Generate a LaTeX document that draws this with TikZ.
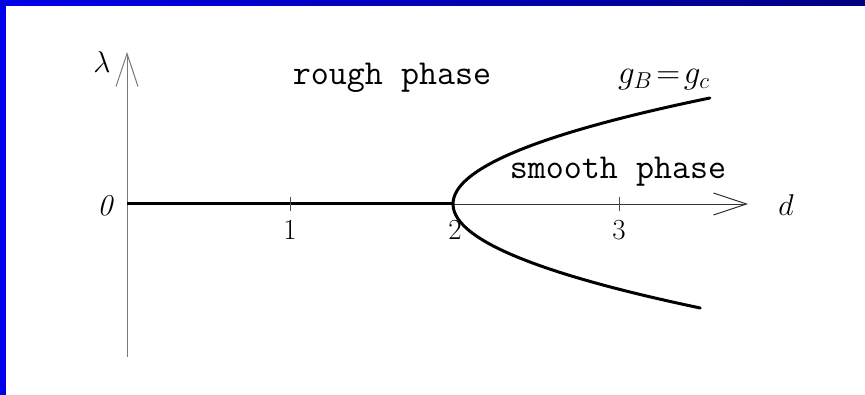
\documentclass[tikz,border=0pt]{standalone}
\usetikzlibrary{arrows.meta}
\definecolor{frameblue}{RGB}{0,0,235}
\definecolor{framenavy}{RGB}{0,0,130}
\definecolor{axisgrey}{RGB}{120,120,120}
\begin{document}
\begin{tikzpicture}[x=1pt,y=-1pt,
  openarrow/.style={-{Straight Barb[length=33pt,width=22pt,line width=1pt]}},
  phaselabel/.style={font=\fontsize{35}{38}\selectfont\ttfamily, inner sep=0pt},
  ticklabel/.style={font=\fontsize{20.74}{24}\selectfont, scale=1.4, inner sep=0pt},
  axlabel/.style={font=\fontsize{20.74}{24}\selectfont, scale=1.45, inner sep=0pt}]
\useasboundingbox (0,0) rectangle (865,395);
\fill[white] (0,0) rectangle (865,395);
% frame
\shade[left color=frameblue, right color=framenavy] (0,0) rectangle (865,6);
\fill[frameblue] (0,0) rectangle (6,395);
% coordinates
\coordinate (origin) at (127,204);
\coordinate (ytop) at (127,52);
\coordinate (ybot) at (127,357);
\coordinate (xend) at (748,204);
\coordinate (crit) at (453,204);
% axes
\draw[axisgrey, line width=0.8pt] (ybot) -- (origin);
\draw[axisgrey, line width=0.8pt, openarrow] (origin) -- (ytop);
\draw[black!80, line width=0.8pt, openarrow] (crit) -- (xend);
\draw[black, line width=3pt] (origin) -- (crit);
% ticks
\foreach \x/\n in {290/one,453/two,619/three}
  \draw[black!70, line width=0.7pt] (\x,197) -- (\x,211) coordinate (tick\n);
\node[ticklabel] (lab1) at (290,230) {1};
\node[ticklabel] (lab2) at (455,230) {2};
\node[ticklabel] (lab3) at (619,230) {3};
% parabola
\draw[black, line width=3pt, line cap=round] plot[domain=-106:104, smooth, samples=60] ({453+0.02286*\x*\x},{204+\x});
% labels
\node[axlabel] (zero) at (107,206) {$\mathit{0}$};
\node[axlabel] (lambda) at (102,62) {$\lambda$};
\node[axlabel] (dlab) at (786,205) {$d$};
\node[phaselabel] (rough) at (392,78) {rough phase};
\node[phaselabel] (smooth) at (618,172) {smooth phase};
\node[axlabel, scale=1.1] (gbgc) at (664,80) {$g_B\!=\!g_c$};
\end{tikzpicture}
\end{document}
